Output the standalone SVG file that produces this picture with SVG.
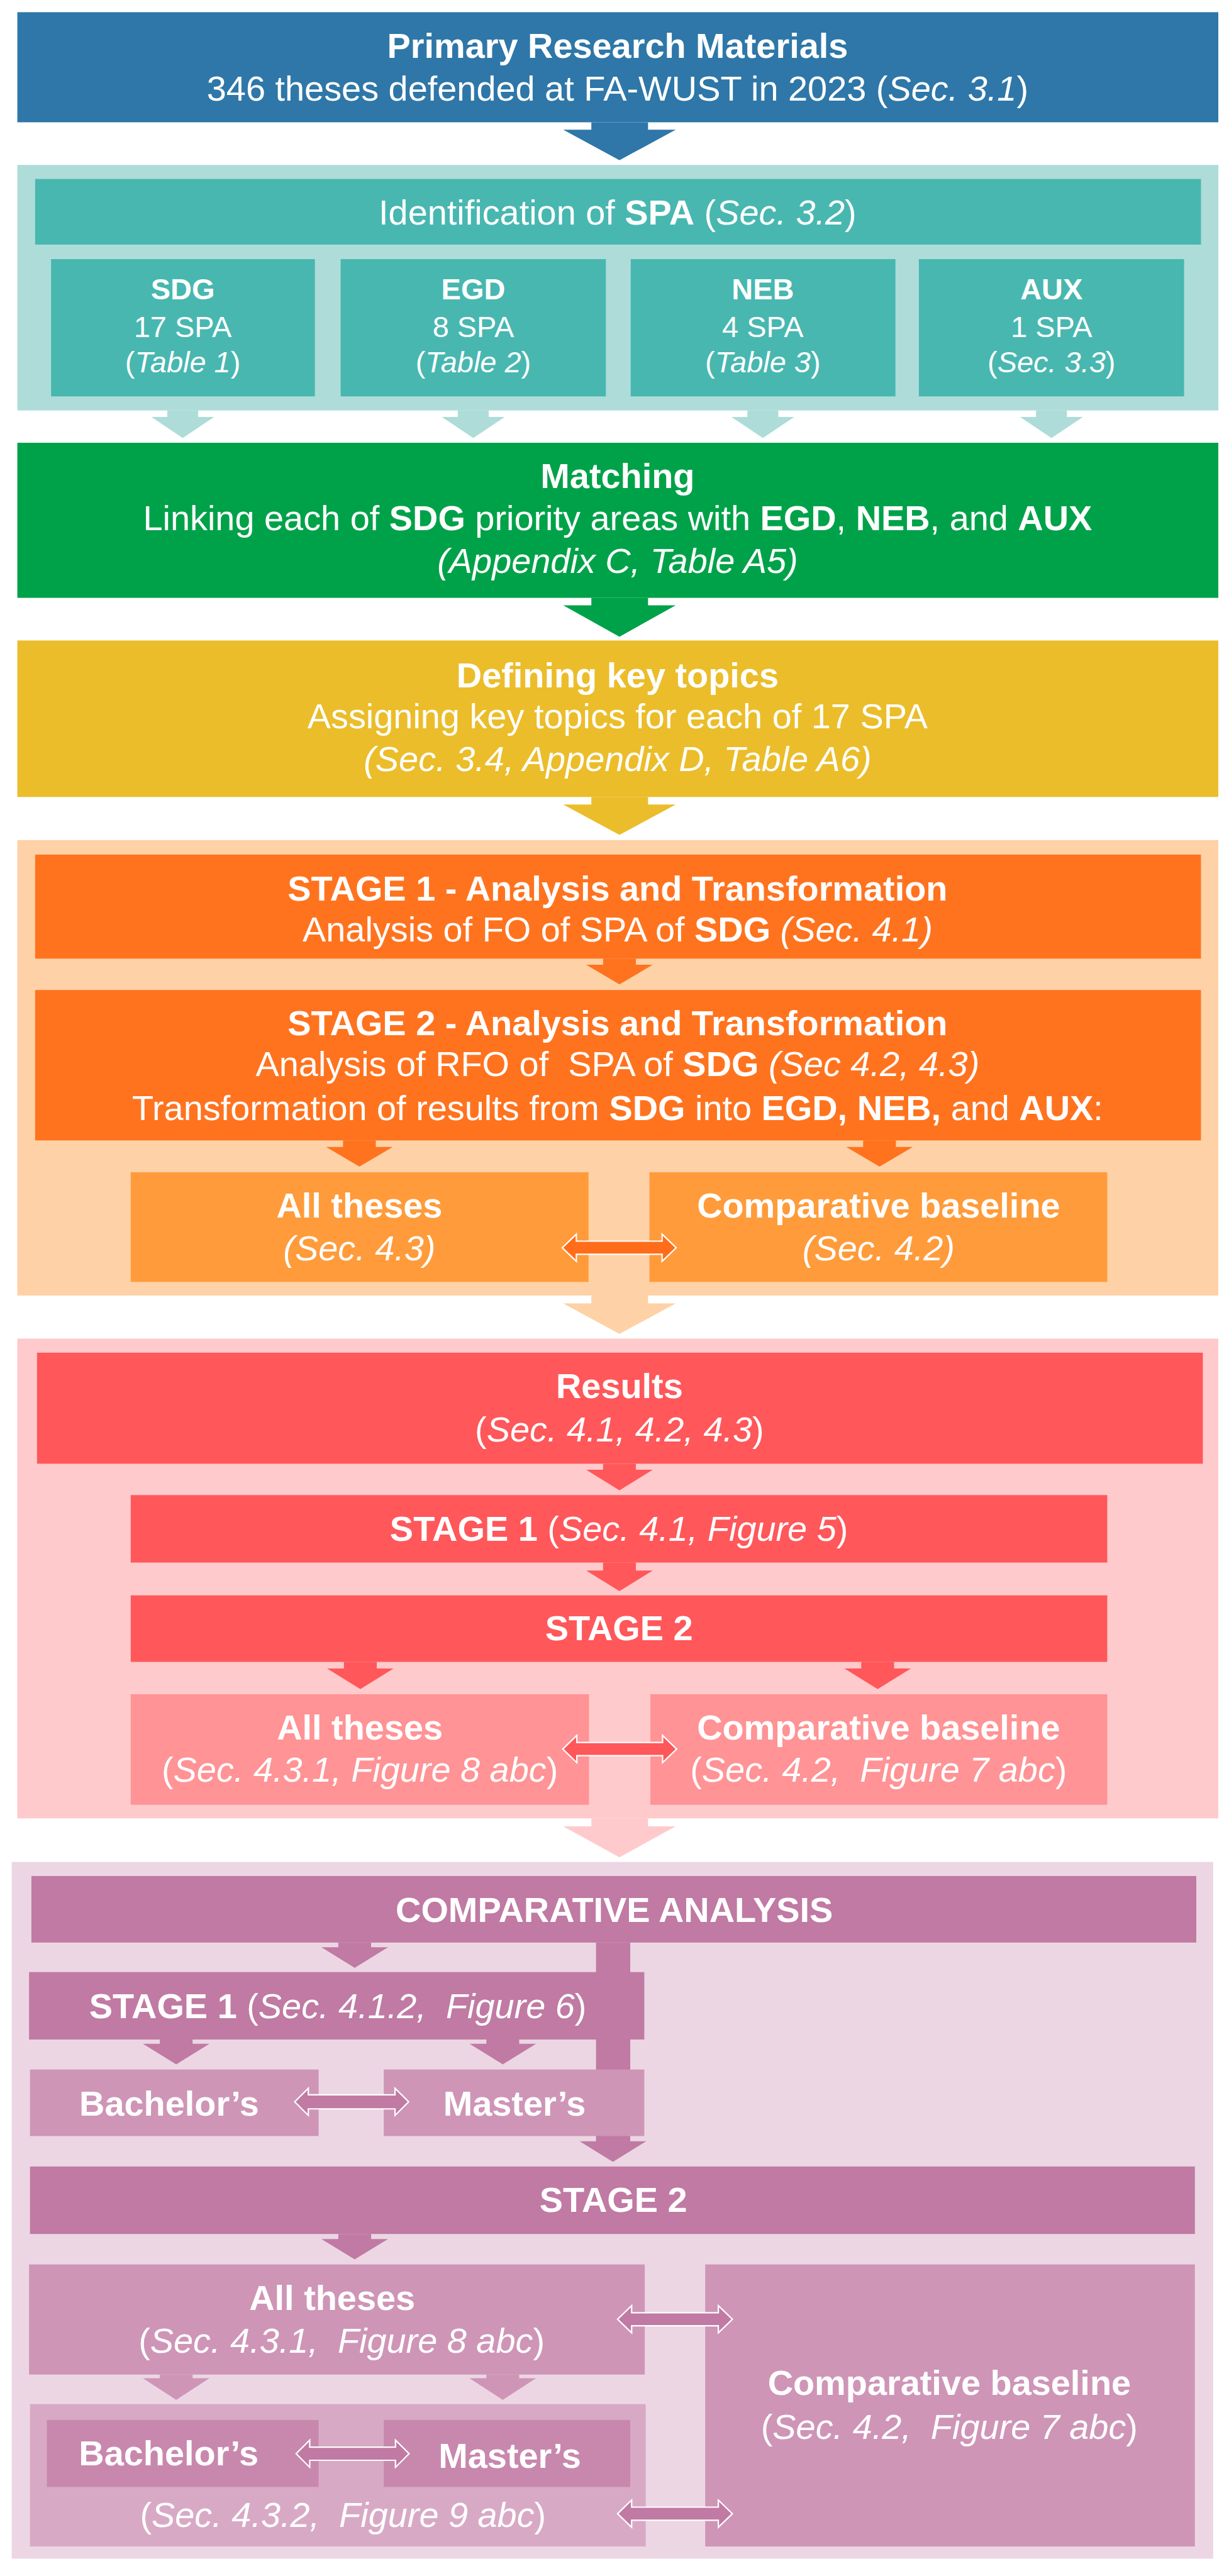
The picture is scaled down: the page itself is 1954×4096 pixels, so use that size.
<svg xmlns="http://www.w3.org/2000/svg" width="1954" height="4096" viewBox="0 0 1954 4096">
<style>
.t{font-family:"Liberation Sans",Arial,sans-serif;fill:#fff;font-size:75px;text-anchor:middle;white-space:pre}
.s{font-size:63px}
.b{font-weight:bold}
.i{font-style:italic}
.dbl{stroke:#fff;stroke-width:3}
</style>
<rect width="1954" height="4096" fill="#fff"/>
<g transform="scale(0.745)">
<!-- containers -->
<g id="container-spa"><rect x="37" y="352" width="2563" height="524" fill="#AEDCD9"/></g>
<g id="container-stage-analysis"><rect x="37" y="1793" width="2563" height="972" fill="#FED1A6"/></g>
<g id="container-results"><rect x="37" y="2857" width="2563" height="1024" fill="#FFCACC"/></g>
<g id="container-comparative"><rect x="25" y="3974" width="2564" height="1487" fill="#ECD6E3"/></g>

<!-- connectors -->
<g id="connectors">
<polygon fill="#2E77A8" points="1262,261 1383,261 1383,277 1442,277 1322,342 1202,277 1262,277"/>
<polygon fill="#AEDCD9" points="357,876 423,876 423,890 457,890 390,935 323,890 357,890"/>
<polygon fill="#AEDCD9" points="977,876 1043,876 1043,890 1077,890 1010,935 943,890 977,890"/>
<polygon fill="#AEDCD9" points="1595,876 1661,876 1661,890 1695,890 1628,935 1561,890 1595,890"/>
<polygon fill="#AEDCD9" points="2211,876 2277,876 2277,890 2311,890 2244,935 2177,890 2211,890"/>
<polygon fill="#00A249" points="1262,1276 1383,1276 1383,1292 1442,1292 1322,1359 1202,1292 1262,1292"/>
<polygon fill="#EBBD2A" points="1262,1701 1383,1701 1383,1717 1442,1717 1322,1782 1202,1717 1262,1717"/>
<polygon fill="#FF731F" points="1287,2046 1357,2046 1357,2059 1393,2059 1322,2101 1251,2059 1287,2059"/>
<polygon fill="#FF731F" points="732,2434 802,2434 802,2448 838,2448 767,2490 696,2448 732,2448"/>
<polygon fill="#FF731F" points="1842,2434 1912,2434 1912,2448 1948,2448 1877,2490 1806,2448 1842,2448"/>
<polygon fill="#FED1A6" points="1262,2765 1383,2765 1383,2782 1442,2782 1322,2847 1202,2782 1262,2782"/>
<polygon fill="#FF575A" points="1287,3124 1357,3124 1357,3137 1393,3137 1322,3181 1251,3137 1287,3137"/>
<polygon fill="#FF575A" points="1287,3335 1357,3335 1357,3352 1393,3352 1322,3396 1251,3352 1287,3352"/>
<polygon fill="#FF575A" points="734,3547 804,3547 804,3561 840,3561 769,3605 698,3561 734,3561"/>
<polygon fill="#FF575A" points="1838,3547 1908,3547 1908,3561 1944,3561 1873,3605 1802,3561 1838,3561"/>
<polygon fill="#FFCACC" points="1262,3881 1383,3881 1383,3898 1442,3898 1322,3964 1202,3898 1262,3898"/>
<polygon fill="#C07AA3" points="722,4146 792,4146 792,4156 828,4156 757,4200 686,4156 722,4156"/>
<polygon fill="#C07AA3" points="1272,4146 1345,4146 1345,4570 1379,4570 1308,4614 1237,4570 1272,4570"/>
<polygon fill="#C07AA3" points="341,4353 411,4353 411,4362 447,4362 376,4406 305,4362 341,4362"/>
<polygon fill="#C07AA3" points="1038,4353 1108,4353 1108,4362 1144,4362 1073,4406 1002,4362 1038,4362"/>
<polygon fill="#C07AA3" points="722,4768 792,4768 792,4779 828,4779 757,4822 686,4779 722,4779"/>
<polygon fill="#CE95B7" points="341,5068 411,5068 411,5076 447,5076 376,5122 305,5076 341,5076"/>
<polygon fill="#CE95B7" points="1038,5068 1108,5068 1108,5076 1144,5076 1073,5122 1002,5076 1038,5076"/>
</g>

<g id="primary"><rect x="37" y="26" width="2563" height="235" fill="#2E77A8"/>
<text class="t" x="1318" y="123"><tspan class="b">Primary Research Materials</tspan></text>
<text class="t" x="1318" y="215">346 theses defended at FA-WUST in 2023 (<tspan class="i">Sec. 3.1</tspan>)</text></g>

<g id="identification"><rect x="75" y="382" width="2488" height="140" fill="#48B7B0"/>
<text class="t" x="1318" y="479">Identification of <tspan class="b">SPA</tspan> (<tspan class="i">Sec. 3.2</tspan>)</text></g>

<g id="sdg"><rect x="109" y="553" width="563" height="293" fill="#48B7B0"/>
<text class="t s" x="390" y="639"><tspan class="b">SDG</tspan></text>
<text class="t s" x="390" y="719">17 SPA</text>
<text class="t s" x="390" y="795">(<tspan class="i">Table 1</tspan>)</text></g>
<g id="egd"><rect x="727" y="553" width="566" height="293" fill="#48B7B0"/>
<text class="t s" x="1010" y="639"><tspan class="b">EGD</tspan></text>
<text class="t s" x="1010" y="719">8 SPA</text>
<text class="t s" x="1010" y="795">(<tspan class="i">Table 2</tspan>)</text></g>
<g id="neb"><rect x="1346" y="553" width="565" height="293" fill="#48B7B0"/>
<text class="t s" x="1628" y="639"><tspan class="b">NEB</tspan></text>
<text class="t s" x="1628" y="719">4 SPA</text>
<text class="t s" x="1628" y="795">(<tspan class="i">Table 3</tspan>)</text></g>
<g id="aux"><rect x="1961" y="553" width="566" height="293" fill="#48B7B0"/>
<text class="t s" x="2244" y="639"><tspan class="b">AUX</tspan></text>
<text class="t s" x="2244" y="719">1 SPA</text>
<text class="t s" x="2244" y="795">(<tspan class="i">Sec. 3.3</tspan>)</text></g>

<g id="matching"><rect x="37" y="945" width="2563" height="331" fill="#00A249"/>
<text class="t" x="1318" y="1042"><tspan class="b">Matching</tspan></text>
<text class="t" x="1318" y="1132">Linking each of <tspan class="b">SDG</tspan> priority areas with <tspan class="b">EGD</tspan>, <tspan class="b">NEB</tspan>, and <tspan class="b">AUX</tspan></text>
<text class="t i" x="1318" y="1223">(Appendix C, Table A5)</text></g>

<g id="key-topics"><rect x="37" y="1367" width="2563" height="334" fill="#EBBD2A"/>
<text class="t" x="1318" y="1467"><tspan class="b">Defining key topics</tspan></text>
<text class="t" x="1318" y="1555">Assigning key topics for each of 17 SPA</text>
<text class="t i" x="1318" y="1645">(Sec. 3.4, Appendix D, Table A6)</text></g>

<g id="stage1-analysis"><rect x="75" y="1824" width="2488" height="222" fill="#FF731F"/>
<text class="t" x="1318" y="1922"><tspan class="b">STAGE 1 - Analysis and Transformation</tspan></text>
<text class="t" x="1318" y="2010">Analysis of FO of SPA of <tspan class="b">SDG</tspan> <tspan class="i">(Sec. 4.1)</tspan></text></g>

<g id="stage2-analysis"><rect x="75" y="2113" width="2488" height="321" fill="#FF731F"/>
<text class="t" x="1318" y="2209"><tspan class="b">STAGE 2 - Analysis and Transformation</tspan></text>
<text class="t" x="1318" y="2297">Analysis of RFO of  SPA of <tspan class="b">SDG</tspan> <tspan class="i">(Sec 4.2, 4.3)</tspan></text>
<text class="t" x="1318" y="2390">Transformation of results from <tspan class="b">SDG</tspan> into <tspan class="b">EGD, NEB,</tspan> and <tspan class="b">AUX</tspan>:</text></g>

<g id="all-theses-1"><rect x="279" y="2502" width="977" height="234" fill="#FF9B3A"/>
<text class="t" x="767" y="2599"><tspan class="b">All theses</tspan></text>
<text class="t i" x="767" y="2690">(Sec. 4.3)</text></g>
<g id="baseline-1"><rect x="1386" y="2502" width="977" height="234" fill="#FF9B3A"/>
<text class="t" x="1875" y="2599"><tspan class="b">Comparative baseline</tspan></text>
<text class="t i" x="1875" y="2690">(Sec. 4.2)</text></g>

<g id="results"><rect x="79" y="2887" width="2488" height="237" fill="#FF575A"/>
<text class="t" x="1322" y="2984"><tspan class="b">Results</tspan></text>
<text class="t" x="1322" y="3077">(<tspan class="i">Sec. 4.1, 4.2, 4.3</tspan>)</text></g>

<g id="results-stage1"><rect x="279" y="3191" width="2084" height="144" fill="#FF575A"/>
<text class="t" x="1321" y="3289"><tspan class="b">STAGE 1</tspan> (<tspan class="i">Sec. 4.1, Figure 5</tspan>)</text></g>

<g id="results-stage2"><rect x="279" y="3405" width="2084" height="142" fill="#FF575A"/>
<text class="t" x="1321" y="3501"><tspan class="b">STAGE 2</tspan></text></g>

<g id="all-theses-2"><rect x="279" y="3616" width="978" height="236" fill="#FF9395"/>
<text class="t" x="768" y="3713"><tspan class="b">All theses</tspan></text>
<text class="t" x="768" y="3803">(<tspan class="i">Sec. 4.3.1, Figure 8 abc</tspan>)</text></g>
<g id="baseline-2"><rect x="1388" y="3616" width="975" height="236" fill="#FF9395"/>
<text class="t" x="1875" y="3713"><tspan class="b">Comparative baseline</tspan></text>
<text class="t" x="1875" y="3803">(<tspan class="i">Sec. 4.2,  Figure 7 abc</tspan>)</text></g>

<g id="comparative-analysis"><rect x="67" y="4004" width="2486" height="142" fill="#C07AA3"/>
<text class="t" x="1311" y="4102"><tspan class="b">COMPARATIVE ANALYSIS</tspan></text></g>

<g id="ca-stage1"><rect x="62" y="4209" width="1313" height="144" fill="#C07AA3"/>
<text class="t" x="721" y="4308"><tspan class="b">STAGE 1</tspan> (<tspan class="i">Sec. 4.1.2,  Figure 6</tspan>)</text></g>

<g id="bachelors-1"><rect x="64" y="4417" width="616" height="142" fill="#CE95B7"/>
<text class="t" x="361" y="4516"><tspan class="b">Bachelor’s</tspan></text></g>
<g id="masters-1"><rect x="819" y="4417" width="556" height="142" fill="#CE95B7"/>
<text class="t" x="1098" y="4516"><tspan class="b">Master’s</tspan></text></g>

<g id="ca-stage2"><rect x="64" y="4624" width="2486" height="144" fill="#C07AA3"/>
<text class="t" x="1309" y="4721"><tspan class="b">STAGE 2</tspan></text></g>

<g id="all-theses-3"><rect x="62" y="4833" width="1314" height="235" fill="#CE95B7"/>
<text class="t" x="709" y="4930"><tspan class="b">All theses</tspan></text>
<text class="t" x="729" y="5022">(<tspan class="i">Sec. 4.3.1,  Figure 8 abc</tspan>)</text></g>

<g id="baseline-3"><rect x="1505" y="4833" width="1045" height="602" fill="#CE95B7"/>
<text class="t" x="2026" y="5111"><tspan class="b">Comparative baseline</tspan></text>
<text class="t" x="2026" y="5205">(<tspan class="i">Sec. 4.2,  Figure 7 abc</tspan>)</text></g>

<g id="degree-group"><rect x="64" y="5131" width="1314" height="304" fill="#D8A9C5"/>
<text class="t" x="732" y="5393">(<tspan class="i">Sec. 4.3.2,  Figure 9 abc</tspan>)</text></g>
<g id="bachelors-2"><rect x="100" y="5165" width="580" height="143" fill="#C888AD"/>
<text class="t" x="360" y="5262"><tspan class="b">Bachelor’s</tspan></text></g>
<g id="masters-2"><rect x="819" y="5165" width="526" height="143" fill="#C888AD"/>
<text class="t" x="1088" y="5267"><tspan class="b">Master’s</tspan></text></g>

<g id="connectors-double">
<polygon class="dbl" fill="#FF6D1A" points="1200,2663 1230,2634 1230,2649 1413,2649 1413,2634 1443,2663 1413,2692 1413,2677 1230,2677 1230,2692"/>
<polygon class="dbl" fill="#FF575A" points="1201,3733 1231,3704 1231,3719 1414,3719 1414,3704 1444,3733 1414,3762 1414,3747 1231,3747 1231,3762"/>
<polygon class="dbl" fill="#C07AA3" points="629,4486 658,4457 658,4471 843,4471 843,4457 872,4486 843,4515 843,4501 658,4501 658,4515"/>
<polygon class="dbl" fill="#C07AA3" points="1318,4950 1348,4921 1348,4936 1533,4936 1533,4921 1563,4950 1533,4979 1533,4964 1348,4964 1348,4979"/>
<polygon class="dbl" fill="#C07AA3" points="632,5237 661,5208 661,5223 844,5223 844,5208 873,5237 844,5266 844,5251 661,5251 661,5266"/>
<polygon class="dbl" fill="#C07AA3" points="1318,5365 1348,5336 1348,5351 1533,5351 1533,5336 1563,5365 1533,5394 1533,5379 1348,5379 1348,5394"/>
</g>
</g>
</svg>
